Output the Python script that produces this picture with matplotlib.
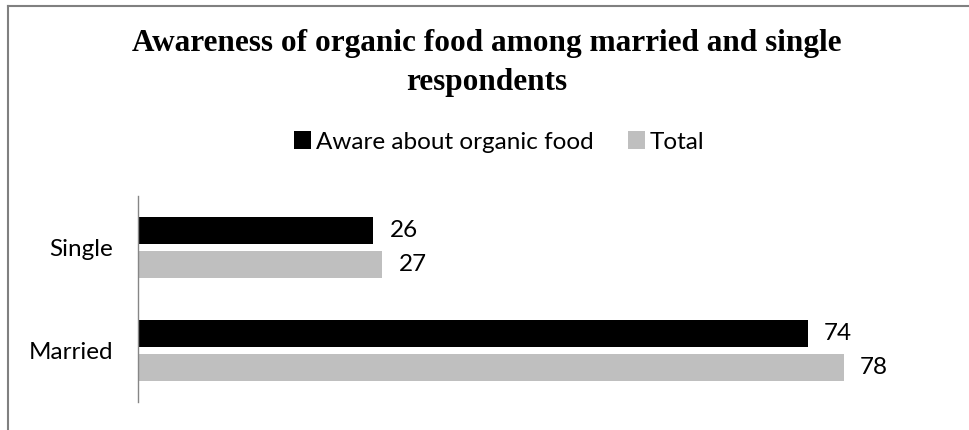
import matplotlib
matplotlib.use("Agg")
import matplotlib.pyplot as plt
from matplotlib.patches import Patch
from matplotlib.lines import Line2D

categories = ["Married", "Single"]
aware = [74, 26]
total = [78, 27]
series_names = ["Aware about organic food", "Total"]
title = "Awareness of organic food among married and single\nrespondents"

W, H = 970, 430
fig = plt.figure(figsize=(W / 100, H / 100), dpi=100)
fig.patch.set_facecolor("white")

def fx(px):
    return px / W

def fy(py):
    return 1 - py / H

# frame (top and left edges visible)
fig.add_artist(Line2D([fx(8.5), 1.0], [fy(5.5), fy(5.5)], color="#808080", lw=1.5, transform=fig.transFigure))
fig.add_artist(Line2D([fx(8.5), fx(8.5)], [fy(5.5), 0.0], color="#808080", lw=1.5, transform=fig.transFigure))

left, right, top, bottom = 138, 955, 196, 402
ax = fig.add_axes([fx(left), fy(bottom), fx(right - left), (bottom - top) / H])

bh = 27 / 103
off = 17 / 103
ypos = list(range(len(categories)))
b1 = ax.barh([y + off for y in ypos], aware, height=bh, color="black")
b2 = ax.barh([y - off for y in ypos], total, height=bh, color="#bfbfbf")

ax.set_ylim(-0.5, 1.5)
ax.set_xlim(0, (right - left) / 9.05)

lab_font = "Lato"
fs = 17.5
for rect, v in zip(b1, aware):
    ax.text(rect.get_width() + 1.8, rect.get_y() + rect.get_height() / 2, str(v),
            va="center", ha="left", fontsize=fs, family=lab_font)
for rect, v in zip(b2, total):
    ax.text(rect.get_width() + 1.8, rect.get_y() + rect.get_height() / 2, str(v),
            va="center", ha="left", fontsize=fs, family=lab_font)

ax.set_yticks(ypos)
ax.set_yticklabels(categories, fontsize=fs, family=lab_font)
ax.tick_params(axis="y", length=0, pad=18)
ax.set_xticks([])
for s in ["top", "right", "bottom"]:
    ax.spines[s].set_visible(False)
ax.spines["left"].set_color("#868686")
ax.spines["left"].set_linewidth(1.0)

fig.text(fx(487), fy(63), title, ha="center", va="center", fontsize=22.5,
         family="Liberation Serif", fontweight="bold", linespacing=1.45)

handles = [Patch(facecolor="black"), Patch(facecolor="#bfbfbf")]
fig.legend(handles, series_names, loc="center", bbox_to_anchor=(fx(499), fy(142)),
           ncol=2, frameon=False, prop={"family": lab_font, "size": fs},
           handlelength=0.7, handleheight=0.7, handletextpad=0.2, columnspacing=1.4)

fig.savefig("out.png", dpi=100, facecolor="white")
